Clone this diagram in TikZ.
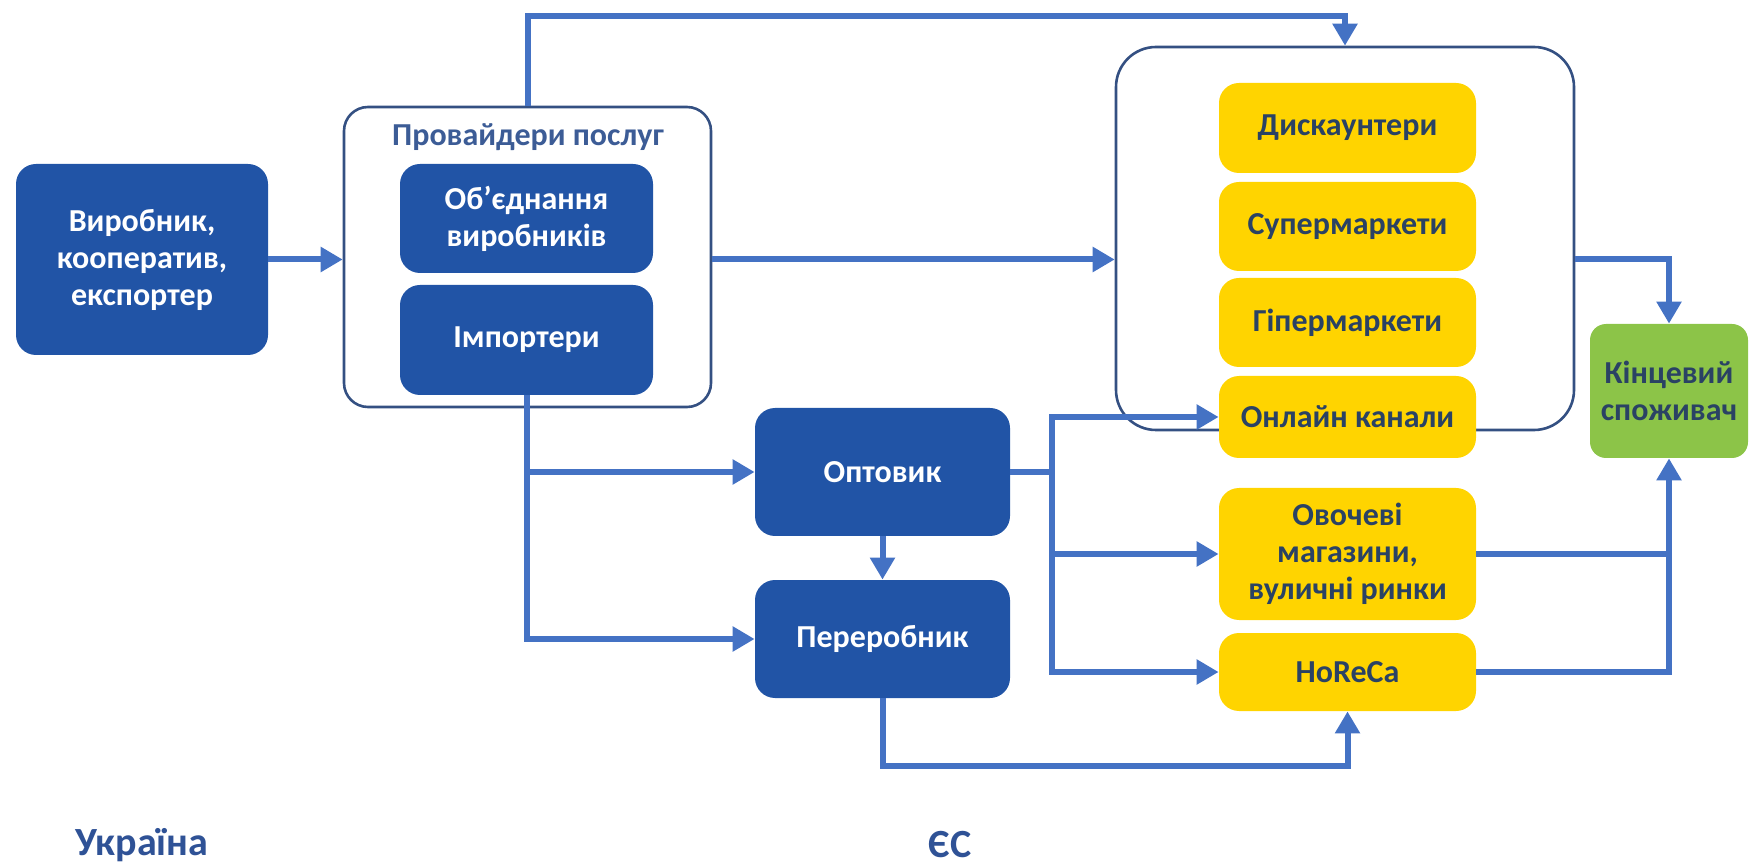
\documentclass[tikz,border=0pt]{standalone}
\usepackage{fontspec}
\setmainfont{Carlito}
\usetikzlibrary{arrows.meta,calc}
\definecolor{dblue}{RGB}{33,84,166}
\definecolor{lblue}{RGB}{68,114,196}
\definecolor{obord}{RGB}{52,80,130}
\definecolor{yel}{RGB}{255,212,0}
\definecolor{ytext}{RGB}{42,66,100}
\definecolor{grn}{RGB}{140,196,72}
\definecolor{ttl}{RGB}{60,92,150}
\definecolor{rgn}{RGB}{47,82,150}
\begin{document}
\begin{tikzpicture}[x=0.5pt,y=-0.5pt,
  darkbox/.style={fill=dblue, rounded corners=10pt, text=white, align=center, inner sep=0pt,
    font=\bfseries\fontsize{16}{18.5}\selectfont},
  yelbox/.style={fill=yel, rounded corners=10pt, text=ytext, align=center, inner sep=0pt,
    minimum width=128.5pt, font=\bfseries\fontsize{16}{18.5}\selectfont},
  grnbox/.style={fill=grn, rounded corners=8pt, text=ytext, align=center, inner sep=0pt,
    font=\bfseries\fontsize{16}{18.5}\selectfont},
  outerbox/.style={draw=obord, line width=1.3pt, fill=white, inner sep=0pt},
  wire/.style={draw=lblue, line width=3pt},
  conn/.style={wire, -{Triangle[width=12pt,length=11pt]}},
  region/.style={text=rgn, font=\bfseries\fontsize{20}{24}\selectfont, inner sep=0pt}
]
\useasboundingbox (0,0) rectangle (1750,865);
% outer containers
\node[outerbox, rounded corners=12pt, minimum width=183.5pt, minimum height=150pt] (prov) at (527.5,257) {};
\node[outerbox, rounded corners=20pt, minimum width=229pt, minimum height=191.5pt] (retail) at (1345,238.5) {};
% title
\node[text=ttl, font=\fontsize{16}{18}\selectfont\bfseries, inner sep=0pt] (provt) at (528,137) {Провайдери послуг};
% dark boxes
\node[darkbox, minimum width=126pt, minimum height=95.5pt] (prod) at (142,259.5) {Виробник,\\кооператив,\\експортер};
\node[darkbox, minimum width=126.5pt, minimum height=54.5pt] (obj) at (526.5,218.5) {Об’єднання\\виробників};
\node[darkbox, minimum width=126.5pt, minimum height=55pt] (imp) at (526.5,340) {Імпортери};
\node[darkbox, minimum width=127.5pt, minimum height=64pt] (opt) at (882.5,472) {Оптовик};
\node[darkbox, minimum width=127.5pt, minimum height=59pt] (per) at (882.5,639) {Переробник};
% yellow boxes
\node[yelbox, minimum height=45pt] (disc) at (1347.5,128) {Дискаунтери};
\node[yelbox, minimum height=44.5pt] (sup) at (1347.5,226.5) {Супермаркети};
\node[yelbox, minimum height=44.5pt] (hyp) at (1347.5,322.5) {Гіпермаркети};
\node[yelbox, minimum height=41pt] (onl) at (1347.5,417) {Онлайн канали};
\node[yelbox, minimum height=66pt] (veg) at (1347.5,554) {Овочеві\\магазини,\\вуличні ринки};
\node[yelbox, minimum height=39pt] (hor) at (1347.5,672) {HoReCa};
% green
\node[grnbox, minimum width=79pt, minimum height=67pt] (cons) at (1669,391) {Кінцевий\\споживач};
% region labels
\node[region, anchor=west] (ua) at (75,845) {Україна};
\node[region] (eu) at (950,845) {ЄС};
% connectors
\draw[conn] (prod.east) -- (prod.east -| prov.west);
\draw[conn] (prov.north) -- ++(0,-90) -| (retail.north);
\draw[conn] (prov.east |- prod.east) -- (retail.west |- prod.east);
\draw[conn] (retail.east |- prod.east) -| (cons.north);
\draw[conn] (imp.south) |- (opt.west);
\draw[conn] (imp.south) |- (per.west);
\draw[conn] (opt.south) -- (per.north);
\coordinate (br) at ($(opt.east)+(42,0)$);
\draw[wire] (opt.east) -- (br);
\draw[conn] (br) |- (onl.west);
\draw[conn] (br) |- (veg.west);
\draw[conn] (br) |- (hor.west);
\draw[conn] (per.south) -- ++(0,68) -| (hor.south);
\draw[wire] (veg.east) -- (veg.east -| cons.south);
\draw[conn] (hor.east) -| (cons.south);
\end{tikzpicture}
\end{document}
